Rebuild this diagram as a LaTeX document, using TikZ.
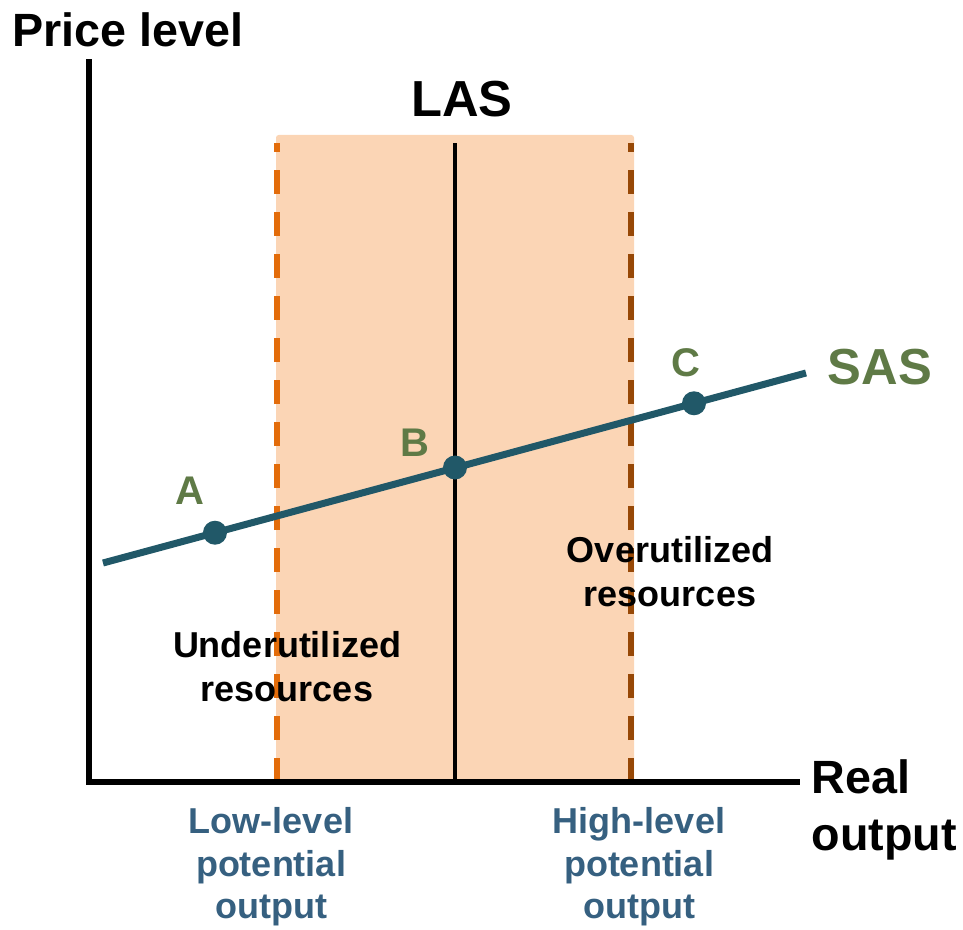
\documentclass[tikz,border=0pt]{standalone}
\usepackage{fontspec}
\setmainfont{Liberation Sans}
\definecolor{peach}{RGB}{251, 213, 181}
\definecolor{loworange}{RGB}{227, 108, 10}
\definecolor{highbrown}{RGB}{151, 72, 6}
\definecolor{curveteal}{RGB}{33, 88, 104}
\definecolor{pointgreen}{RGB}{95, 122, 70}
\definecolor{levelblue}{RGB}{54, 96, 128}
\usepackage{tikz}
\usetikzlibrary{calc}
\tikzset{every picture/.style={line width=0.75pt}}
\tikzset{
  axisline/.style={line width=4.25pt, line cap=rect},
  potline/.style={line width=4pt, dash pattern=on 18pt off 13.5pt},
  bigtext/.style={inner sep=0.75pt, font=\bfseries\fontsize{35}{40}\selectfont},
  curvetext/.style={inner sep=0.75pt, font=\bfseries\fontsize{38}{44}\selectfont},
  pointtext/.style={inner sep=0.75pt, text=pointgreen, font=\bfseries\fontsize{30}{36}\selectfont},
  smalltext/.style={inner sep=0.75pt, align=center, font=\bfseries\fontsize{27}{33}\selectfont},
  dot/.style={circle, fill=curveteal, inner sep=0pt, minimum size=18pt},
}

\begin{document}
\begin{tikzpicture}[x=0.75pt,y=0.75pt,yscale=-1,xscale=1]
\useasboundingbox (0,0) rectangle (963,930);

%Shape: Rectangle
\draw [fill=peach, draw=none, rounded corners=2pt] (276,135) rectangle (634,782);

%Coordinates
\coordinate (origin) at (89,782);
\coordinate (ytop) at (89,62);
\coordinate (xend) at (797,782);
\coordinate (lowbot) at (277,782);
\coordinate (lowtop) at (277,143);
\coordinate (highbot) at (631,782);
\coordinate (hightop) at (631,143);
\coordinate (lasbot) at (455,782);
\coordinate (lastop) at (455,143);
\coordinate (sasstart) at (103,563);
\coordinate (sasend) at (806,373);

%Dashed Lines
\draw [potline, loworange] (lowbot) -- (lowtop);
\draw [potline, highbrown] (highbot) -- (hightop);

%Straight Lines
\draw [line width=3.5pt] (lasbot) -- (lastop);
\draw [axisline] (ytop) -- (origin) -- (xend);
\draw [line width=5.25pt, curveteal] (sasstart) -- (sasend);

%Points
\node [dot] (ptA) at ($(sasstart)!0.1593!(sasend)$) {};
\node [dot] (ptB) at (455,467.5) {};
\node [dot] (ptC) at ($(sasstart)!0.8407!(sasend)$) {};

% Text Node
\node [bigtext] (pricelabel) at (128,30) {Price level};
% Text Node
\node [curvetext] (laslabel) at (462,99) {LAS};
% Text Node
\node [curvetext, text=pointgreen] (saslabel) at (880,367) {SAS};
% Text Node
\node [pointtext] (alabel) at (190,491) {A};
% Text Node
\node [pointtext] (blabel) at (415,443) {B};
% Text Node
\node [pointtext] (clabel) at (686,363) {C};
% Text Node
\node [bigtext, anchor=west, align=left, font=\bfseries\fontsize{35}{43}\selectfont] (outputlabel) at (810,810) {Real\\output};
% Text Node
\node [smalltext] (underlabel) at (287,667) {Underutilized\\resources};
% Text Node
\node [smalltext] (overlabel) at (670,572) {Overutilized\\resources};
% Text Node
\node [smalltext, text=levelblue, font=\bfseries\fontsize{27}{32}\selectfont] (lowlabel) at (271,867) {Low-level\\potential\\output};
% Text Node
\node [smalltext, text=levelblue, font=\bfseries\fontsize{27}{32}\selectfont] (highlabel) at (639,867) {High-level\\potential\\output};

\end{tikzpicture}
\end{document}
